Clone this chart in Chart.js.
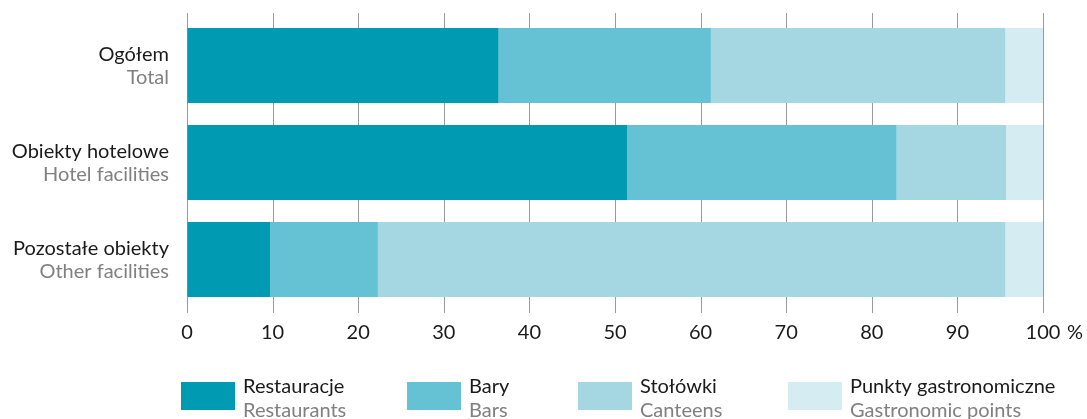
<!DOCTYPE html>
<html>
<head>
<meta charset="utf-8">
<script src="https://cdn.jsdelivr.net/npm/chart.js@4.4.1/dist/chart.umd.min.js"></script>
<style>
  html, body { margin: 0; padding: 0; background: #fff; }
  #wrap { width: 1087px; height: 419px; position: relative; }
</style>
</head>
<body>
<div id="wrap"><canvas id="c" width="1087" height="419"></canvas></div>
<script>
// ---- data ----
const categoriesPL = ["Ogółem", "Obiekty hotelowe", "Pozostałe obiekty"];
const categoriesEN = ["Total", "Hotel facilities", "Other facilities"];
const seriesPL = ["Restauracje", "Bary", "Stołówki", "Punkty gastronomiczne"];
const seriesEN = ["Restaurants", "Bars", "Canteens", "Gastronomic points"];
const restaurants = [36.4, 51.4, 9.7];
const bars = [24.8, 31.5, 12.6];
const canteens = [34.4, 12.8, 73.3];
const points = [4.4, 4.3, 4.4];
const xTicks = [0, 10, 20, 30, 40, 50, 60, 70, 80, 90, 100];

const colors = ["#009bb2", "#64c2d4", "#a4d7e2", "#d5ecf2"];
const FONT = "Lato, 'Open Sans', sans-serif";
const BLACK = "#1a1a1a";
const GREY = "#808080";

const gridPlugin = {
  id: 'customGrid',
  beforeDatasetsDraw(chart) {
    const ctx = chart.ctx;
    const xs = chart.scales.x;
    const top = chart.chartArea.top - 4;
    const bottom = chart.chartArea.bottom + 5;
    ctx.save();
    ctx.strokeStyle = "#999999";
    ctx.lineWidth = 1;
    xTicks.forEach(v => {
      const px = Math.round(xs.getPixelForValue(v)) + 0.5;
      ctx.beginPath();
      ctx.moveTo(px, top);
      ctx.lineTo(px, bottom);
      ctx.stroke();
    });
    ctx.restore();
  },
  afterDraw(chart) {
    const ctx = chart.ctx;
    const xs = chart.scales.x;
    const ys = chart.scales.y;
    ctx.save();
    // category labels (two lines, two colours)
    ctx.textAlign = "right";
    ctx.textBaseline = "alphabetic";
    categoriesPL.forEach((lab, i) => {
      const cy = ys.getPixelForValue(i);
      ctx.font = "20px " + FONT;
      ctx.fillStyle = BLACK;
      ctx.fillText(lab, 169, cy - 5);
      ctx.fillStyle = GREY;
      ctx.fillText(categoriesEN[i], 169, cy + 18);
    });
    // percent sign after last tick
    ctx.textAlign = "left";
    ctx.font = "20px " + FONT;
    ctx.fillStyle = BLACK;
    ctx.fillText("%", xs.getPixelForValue(100) + 24, 339);
    // legend
    const boxX = [181, 407, 578, 788];
    seriesPL.forEach((lab, i) => {
      const bx = boxX[i];
      ctx.fillStyle = colors[i];
      ctx.fillRect(bx, 382, 54, 28);
      ctx.font = "20px " + FONT;
      ctx.fillStyle = BLACK;
      ctx.fillText(lab, bx + 62, 393);
      ctx.fillStyle = GREY;
      ctx.fillText(seriesEN[i], bx + 62, 417);
    });
    ctx.restore();
  }
};

const ds = [restaurants, bars, canteens, points].map((d, i) => ({
  label: seriesPL[i],
  data: d,
  backgroundColor: colors[i],
  borderWidth: 0,
  categoryPercentage: 1.0,
  barPercentage: 0.773
}));

new Chart(document.getElementById('c'), {
  type: 'bar',
  data: { labels: categoriesPL, datasets: ds },
  plugins: [gridPlugin],
  options: {
    indexAxis: 'y',
    responsive: false,
    animation: false,
    events: [],
    layout: { padding: { left: 0, right: 44, top: 17, bottom: 0 } },
    plugins: { legend: { display: false }, tooltip: { enabled: false } },
    scales: {
      x: {
        stacked: true,
        min: 0, max: 100,
        afterBuildTicks(scale) { scale.ticks = xTicks.map(v => ({ value: v })); },
        afterFit(scale) { scale.height = 111; },
        grid: { display: true, drawOnChartArea: false, drawTicks: false, color: 'rgba(0,0,0,0)' },
        border: { display: false },
        ticks: {
          padding: 13,
          color: BLACK,
          font: { family: FONT, size: 20 },
          maxRotation: 0,
          autoSkip: false
        }
      },
      y: {
        stacked: true,
        afterFit(scale) { scale.width = 187; },
        grid: { display: false },
        border: { display: false },
        ticks: { display: false }
      }
    }
  }
});
</script>
</body>
</html>
